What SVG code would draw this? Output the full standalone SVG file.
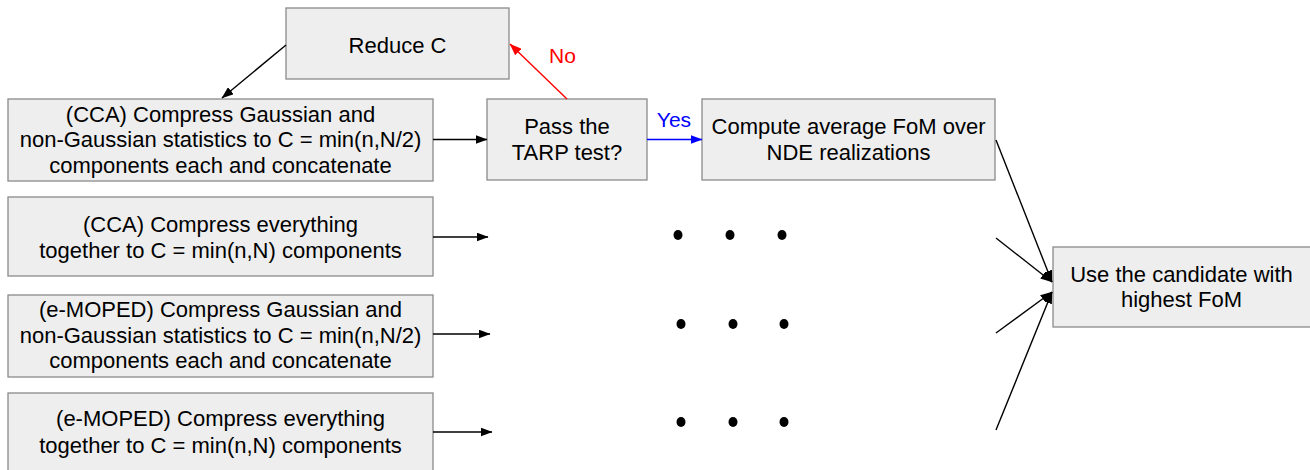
<svg xmlns="http://www.w3.org/2000/svg" width="1310" height="470" viewBox="0 0 1310 470">
<defs>
<style>
.box{fill:#eeeeee;stroke:#8a8a8a;stroke-width:1.3}
.t{font-family:"Liberation Sans",Arial,sans-serif;font-size:22px;fill:#000;text-anchor:middle}
.lbl{font-family:"Liberation Sans",Arial,sans-serif;font-size:21px;text-anchor:middle}
.c{fill:none;stroke:#000;stroke-width:1.4}
</style>
<marker id="ah" markerWidth="12" markerHeight="9" refX="11.5" refY="4.5" orient="auto" markerUnits="userSpaceOnUse"><path d="M0,0 L12,4.5 L0,9 z" fill="#000"/></marker>
<marker id="ahr" markerWidth="12" markerHeight="9" refX="11.5" refY="4.5" orient="auto" markerUnits="userSpaceOnUse"><path d="M0,0 L12,4.5 L0,9 z" fill="#ff0000"/></marker>
<marker id="ahb" markerWidth="12" markerHeight="9" refX="11.5" refY="4.5" orient="auto" markerUnits="userSpaceOnUse"><path d="M0,0 L12,4.5 L0,9 z" fill="#0000ff"/></marker>
</defs>
<rect width="1310" height="470" fill="#fff"/>
<g id="reduce"><rect class="box" x="286" y="8" width="223" height="71"/><text class="t" x="397.5" y="52.5">Reduce C</text></g>
<g id="cca-sep"><rect class="box" x="8" y="99" width="425" height="82"/>
<text class="t" x="220.5" y="121.5">(CCA) Compress Gaussian and</text>
<text class="t" x="220.5" y="147">non-Gaussian statistics to C = min(n,N/2)</text>
<text class="t" x="220.5" y="172.5">components each and concatenate</text></g>
<g id="tarp"><rect class="box" x="487" y="99" width="160" height="81"/>
<text class="t" x="567" y="134">Pass the</text><text class="t" x="567" y="160">TARP test?</text></g>
<g id="compute"><rect class="box" x="702" y="99" width="293" height="81"/>
<text class="t" x="848.5" y="134">Compute average FoM over</text><text class="t" x="848.5" y="160">NDE realizations</text></g>
<g id="cca-all"><rect class="box" x="8" y="197" width="425" height="79"/>
<text class="t" x="220.5" y="231.5">(CCA) Compress everything</text>
<text class="t" x="220.5" y="257.5">together to C = min(n,N) components</text></g>
<g id="moped-sep"><rect class="box" x="8" y="295" width="425" height="82"/>
<text class="t" x="220.5" y="316.5">(e-MOPED) Compress Gaussian and</text>
<text class="t" x="220.5" y="342.5">non-Gaussian statistics to C = min(n,N/2)</text>
<text class="t" x="220.5" y="368">components each and concatenate</text></g>
<g id="moped-all"><rect class="box" x="8" y="393" width="425" height="82"/>
<text class="t" x="220.5" y="425.5">(e-MOPED) Compress everything</text>
<text class="t" x="220.5" y="452.5">together to C = min(n,N) components</text></g>
<g id="best"><rect class="box" x="1053" y="247" width="261" height="80"/>
<text class="t" x="1181.5" y="282">Use the candidate with</text><text class="t" x="1181.5" y="307">highest FoM</text></g>
<g id="dots" fill="#000">
<ellipse cx="678" cy="235" rx="4.5" ry="5"/><ellipse cx="730" cy="235" rx="4.5" ry="5"/><ellipse cx="782" cy="235" rx="4.5" ry="5"/>
<ellipse cx="681" cy="324" rx="4.5" ry="5"/><ellipse cx="733" cy="324" rx="4.5" ry="5"/><ellipse cx="784" cy="324" rx="4.5" ry="5"/>
<ellipse cx="681" cy="422" rx="4.5" ry="5"/><ellipse cx="733" cy="422" rx="4.5" ry="5"/><ellipse cx="784" cy="422" rx="4.5" ry="5"/>
</g>
<g id="connectors">
<line class="c" x1="286" y1="45" x2="222" y2="98" marker-end="url(#ah)"/>
<line class="c" x1="567" y1="99" x2="510" y2="44" style="stroke:#ff0000" marker-end="url(#ahr)"/>
<text class="lbl" x="562.5" y="63" fill="#ff0000">No</text>
<line class="c" x1="433" y1="139.5" x2="487" y2="139.5" marker-end="url(#ah)"/>
<line class="c" x1="647" y1="139.5" x2="702" y2="139.5" style="stroke:#0000ff" marker-end="url(#ahb)"/>
<text class="lbl" x="674" y="127" fill="#0000ff">Yes</text>
<line class="c" x1="433" y1="237" x2="488" y2="237" marker-end="url(#ah)"/>
<line class="c" x1="433" y1="334" x2="490" y2="334" marker-end="url(#ah)"/>
<line class="c" x1="433" y1="432" x2="492" y2="432" marker-end="url(#ah)"/>
<line class="c" x1="996" y1="140" x2="1052" y2="282" marker-end="url(#ah)"/>
<line class="c" x1="996" y1="238" x2="1052" y2="282" marker-end="url(#ah)"/>
<line class="c" x1="996" y1="333" x2="1052" y2="292" marker-end="url(#ah)"/>
<line class="c" x1="996" y1="430" x2="1052" y2="292" marker-end="url(#ah)"/>
</g>
</svg>
